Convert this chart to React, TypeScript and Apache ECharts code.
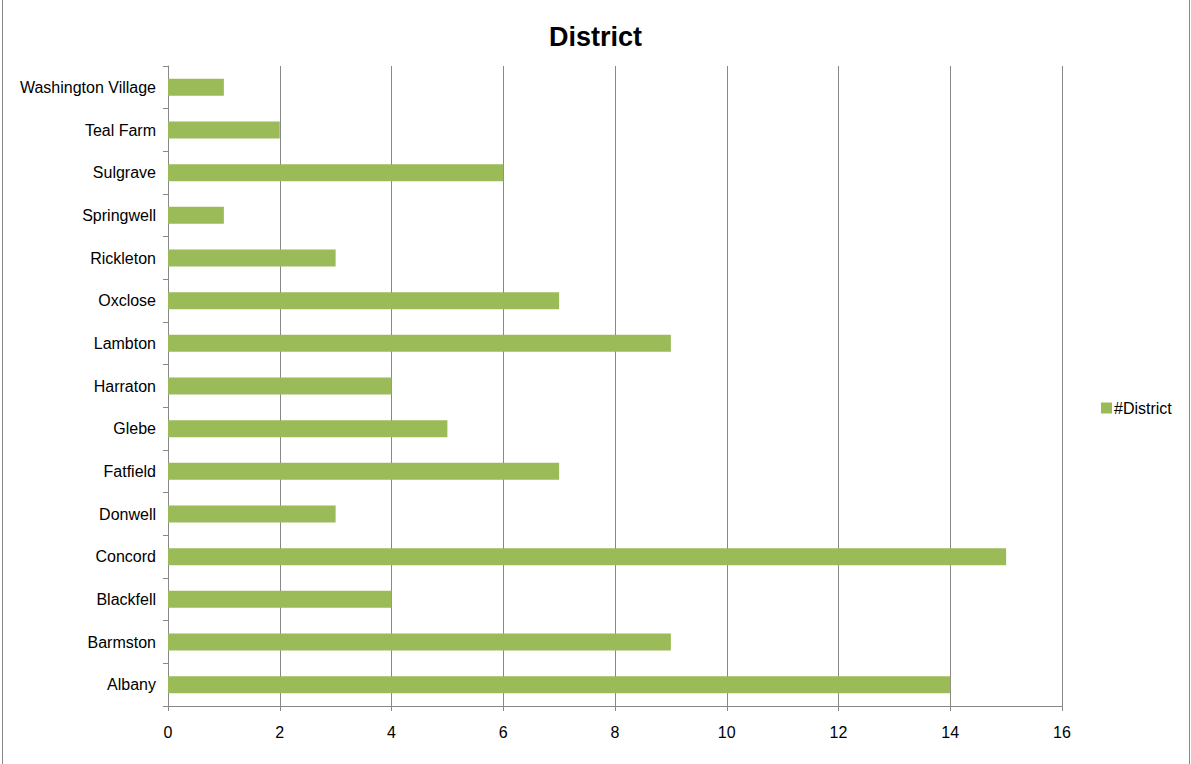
import React, { useEffect, useRef } from "react";
import * as echarts from "echarts";

const categories = [
  "Albany", "Barmston", "Blackfell", "Concord", "Donwell", "Fatfield", "Glebe",
  "Harraton", "Lambton", "Oxclose", "Rickleton", "Springwell", "Sulgrave",
  "Teal Farm", "Washington Village",
];
const values = [14, 9, 4, 15, 3, 7, 5, 4, 9, 7, 3, 1, 6, 2, 1];
const seriesName = "#District";
const title = "District";

export default function App() {
  const ref = useRef<HTMLDivElement>(null);
  useEffect(() => {
    document.body.style.margin = "0";
    const chart = echarts.init(ref.current!, null, { renderer: "svg" });
    const font = "'Liberation Sans', Arial, sans-serif";
    chart.setOption({
      animation: false,
      backgroundColor: "#fff",
      title: {
        text: title,
        left: "center",
        top: 18,
        textStyle: { fontFamily: font, fontSize: 27, fontWeight: "bold", color: "#000" },
      },
      legend: {
        data: [seriesName],
        orient: "vertical",
        left: 1096,
        top: 395,
        itemWidth: 11,
        itemHeight: 11,
        itemGap: 4,
        icon: "rect",
        textStyle: { fontFamily: font, fontSize: 16, color: "#000", padding: [0, 0, 0, -3] },
      },
      grid: { left: 168, right: 1191 - 1062, top: 66, bottom: 764 - 706 },
      xAxis: {
        type: "value",
        min: 0,
        max: 16,
        interval: 2,
        axisLine: { show: true, lineStyle: { color: "#888" } },
        axisTick: { show: true, length: 5, lineStyle: { color: "#888" } },
        splitLine: { show: true, lineStyle: { color: "#888" } },
        axisLabel: { fontFamily: font, fontSize: 16, color: "#000", margin: 18 },
      },
      yAxis: {
        type: "category",
        data: categories,
        axisLine: { show: true, lineStyle: { color: "#888" } },
        axisTick: { show: true, length: 5, lineStyle: { color: "#888" } },
        axisLabel: { fontFamily: font, fontSize: 16, color: "#000", margin: 12 },
      },
      series: [
        {
          name: seriesName,
          type: "bar",
          data: values,
          barWidth: 17,
          itemStyle: { color: "#9BBB59" },
        },
      ],
      graphic: [
        {
          type: "line",
          shape: { x1: 2.5, y1: 0, x2: 2.5, y2: 764 },
          style: { stroke: "#888", lineWidth: 1 },
          silent: true,
        },
        {
          type: "line",
          shape: { x1: 1189.5, y1: 0, x2: 1189.5, y2: 764 },
          style: { stroke: "#888", lineWidth: 1 },
          silent: true,
        },
      ],
    });
    return () => chart.dispose();
  }, []);
  return (
    <div
      ref={ref}
      style={{ position: "absolute", left: 0, top: 0, width: 1191, height: 764 }}
    />
  );
}
